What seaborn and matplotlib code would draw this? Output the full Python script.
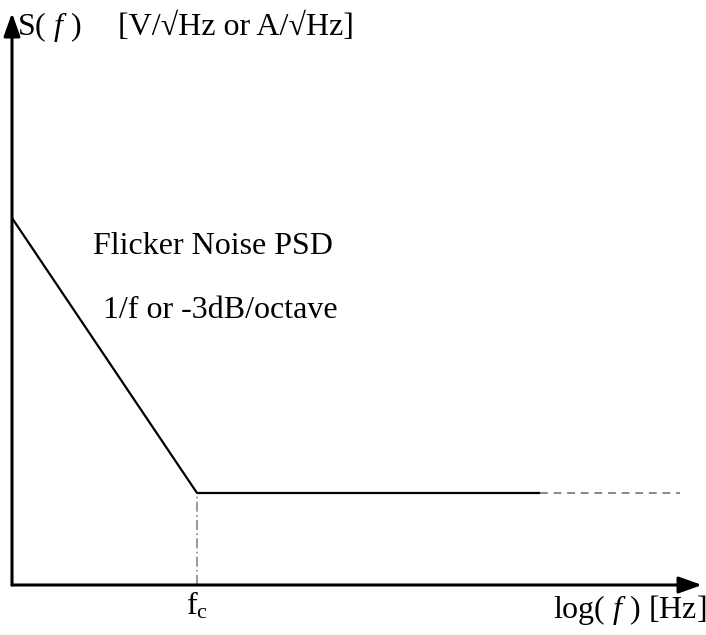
import matplotlib
matplotlib.use("Agg")
import matplotlib.pyplot as plt
import seaborn as sns
import pandas as pd

# Schematic data (arbitrary units: x = log(f), y = S(f))
freq_solid = [0, 185, 528]
psd_solid = [367, 92, 92]
freq_ext = [528, 668]
psd_ext = [92, 92]
fc = 185
fc_level = 92
x_axis_end = 690
y_axis_end = 572

sns.set_style("white")
plt.rcParams['font.family'] = ['Liberation Serif', 'DejaVu Serif']
plt.rcParams['mathtext.fontset'] = 'custom'
plt.rcParams['mathtext.rm'] = 'Liberation Serif'
plt.rcParams['mathtext.it'] = 'Liberation Serif:italic'
plt.rcParams['text.color'] = 'black'

fig = plt.figure(figsize=(7.06, 6.35), dpi=100)
ax = fig.add_axes([0, 0, 1, 1])
ax.set_xlim(-12, 694)
ax.set_ylim(-50, 585)
ax.axis('off')

df = pd.DataFrame({"x": freq_solid, "y": psd_solid})
sns.lineplot(data=df, x="x", y="y", ax=ax, color="black", linewidth=1.6,
             sort=False, estimator=None)
df2 = pd.DataFrame({"x": freq_ext, "y": psd_ext})
sns.lineplot(data=df2, x="x", y="y", ax=ax, color="#888888", linewidth=1.4,
             linestyle=(0, (4, 3)), estimator=None)
ax.plot([fc, fc], [0, fc_level], color="#888888", linewidth=1.2,
        linestyle=(0, (6, 2, 1, 2)))

# axes with arrows
arrow = dict(arrowstyle="-|>,head_length=1.4,head_width=0.5", color="black",
             linewidth=2.2, shrinkA=0, shrinkB=0)
ax.annotate("", xy=(x_axis_end, 0), xytext=(0, 0), arrowprops=arrow)
ax.annotate("", xy=(0, y_axis_end), xytext=(0, 0), arrowprops=arrow)

fs = 23
kw = dict(fontsize=fs, color="black")
ax.text(5, 558, "S( $f$ )", va="center", ha="left", **kw)
ax.text(106, 558, "[V/√Hz or A/√Hz]", va="center", ha="left", **kw)
ax.text(81, 339, "Flicker Noise PSD", va="center", ha="left", **kw)
ax.text(91, 274, "1/f or -3dB/octave", va="center", ha="left", **kw)
ax.text(fc, -21, "f$_\\mathrm{c}$", va="center", ha="center", **kw)
ax.text(694, -25, "log( $f$ ) [Hz]", va="center", ha="right", **kw)

fig.savefig("out.png", dpi=100, facecolor="white")
